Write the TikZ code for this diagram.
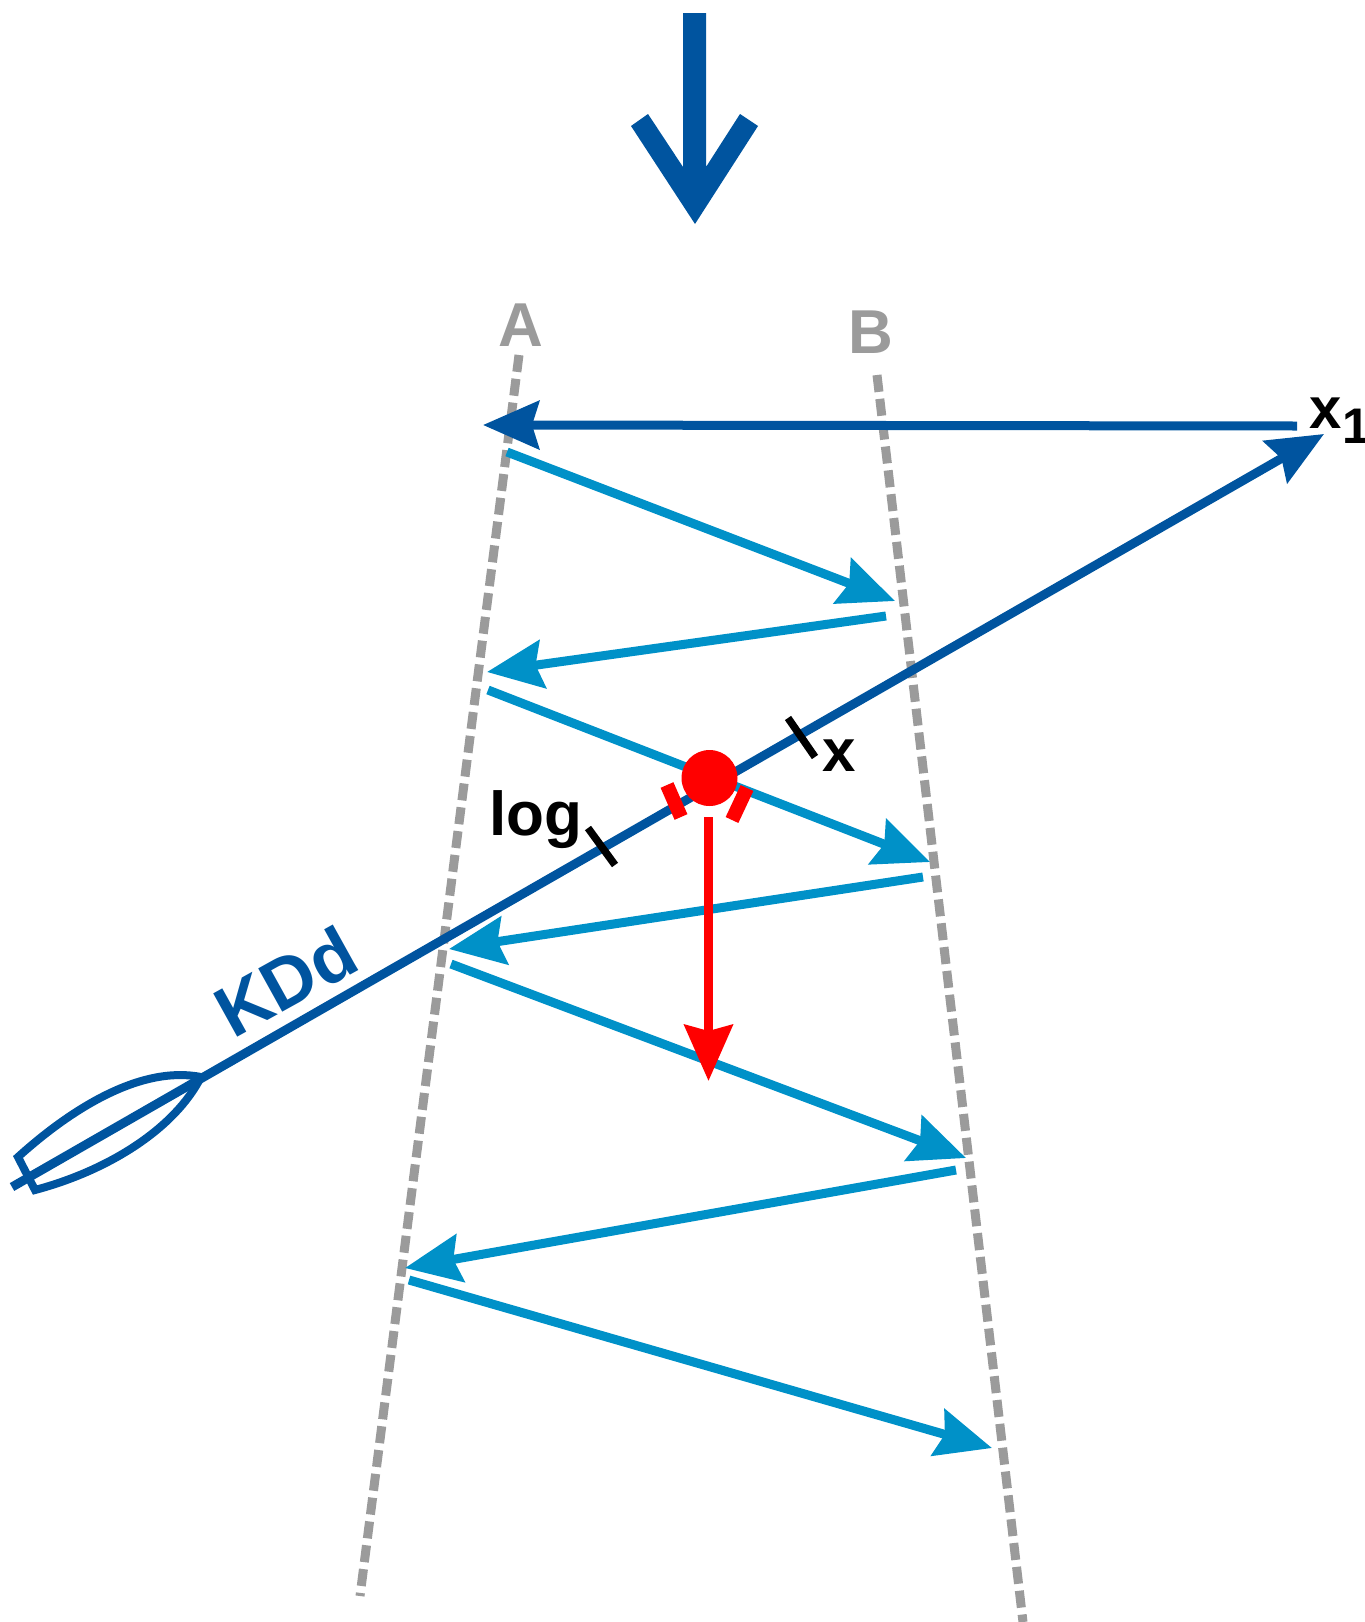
\documentclass[tikz,border=0pt]{standalone}
\usepackage{fontspec}
\setmainfont{Liberation Sans}
\usetikzlibrary{arrows.meta}
\definecolor{darkray}{RGB}{0,84,159}
\definecolor{lightray}{RGB}{0,145,200}
\definecolor{planegray}{RGB}{155,155,155}
\definecolor{hitred}{RGB}{255,0,0}
\tikzset{
  lightarrow/.style={line width=9pt, draw=lightray, -{Stealth[length=56pt,width=48pt,inset=7pt]}},
  darkarrow/.style={line width=9pt, draw=darkray, -{Stealth[length=56pt,width=48pt,inset=7pt]}},
  plane/.style={line width=9pt, draw=planegray, dash pattern=on 17pt off 7pt},
  lens/.style={line width=8pt, draw=darkray, line join=miter},
  tick/.style={line width=7.5pt, draw=black},
  redtick/.style={line width=14pt, draw=hitred},
  lab/.style={font=\bfseries\fontsize{#1}{#1}\selectfont, inner sep=0pt}
}
\begin{document}
\begin{tikzpicture}[x=1pt, y=-1pt]
  \useasboundingbox (0,0) rectangle (1365,1622);
  % ends of the rays
  \foreach \name/\px/\py in {a1/507/452, b1/895/601, b2/886/616, a2/487/672, a3/488/690, b3/930/862,
      b4/923/877, a4/449/949, a5/451/964, b5/966/1158, b6/956/1170, a6/405/1268, a7/409/1280, b7/992/1448}
    \coordinate (\name) at (\px,\py);
  \coordinate (planeAtop) at (519,355);
  \coordinate (planeAbot) at (360,1596);
  \coordinate (planeBtop) at (877,375);
  \coordinate (planeBbot) at (1023,1622);
  \coordinate (focusstart) at (1297,426);
  \coordinate (focusend) at (483,425);
  \coordinate (axisstart) at (12,1187);
  \coordinate (axisend) at (1324,434);
  \coordinate (lenstip) at (201,1077);
  \coordinate (lenstop) at (18,1157);
  \coordinate (lensbot) at (35,1190);
  \coordinate (dropstart) at (708.5,817);
  \coordinate (dropend) at (708.5,1081);

  \fill[darkray] (683,13) -- (706,13) -- (706,167) -- (740,114) -- (758,126) -- (695,224)
    -- (631,126) -- (648,114) -- (683,167) -- cycle;

  \draw[plane] (planeAtop) -- (planeAbot);
  \draw[plane] (planeBtop) -- (planeBbot);
  \node[lab=62, text=planegray] (labA) at (521,325) {A};
  \node[lab=62, text=planegray] (labB) at (871,332) {B};

  \foreach \from/\to in {a1/b1, b2/a2, a3/b3, b4/a4, a5/b5, b6/a6, a7/b7}
    \draw[lightarrow] (\from) -- (\to);

  \draw[darkarrow] (focusstart) -- (focusend);
  \draw[darkarrow] (axisstart) -- (axisend);
  \draw[lens] (lenstop) .. controls (70,1110) and (140,1065) .. (lenstip)
    .. controls (175,1128) and (110,1170) .. (lensbot) -- cycle;

  \node[circle, fill=hitred, minimum size=56pt, inner sep=0pt] (spot) at (709.5,778) {};
  \draw[redtick] (667,785) -- (681,817);
  \draw[redtick] (747,788) -- (732,820);
  \draw[tick] (588,828) -- (615,865);
  \draw[tick] (788,718) -- (815,757);
  \draw[line width=9pt, draw=hitred, -{Stealth[length=56pt,width=48pt,inset=6pt]}] (dropstart) -- (dropend);

  \node[lab=62, anchor=base west] (lablog) at (489,835) {log};
  \node[lab=60, anchor=base] (labx) at (839,771) {x};
  \node[lab=58, anchor=base west] (labxa) at (1309,428) {x};
  \node[lab=50, anchor=base west] (labone) at (1342,443) {1};
  \node[lab=72, text=darkray, rotate=29, anchor=base west] (labkdd) at (233,1040) {KDd};
\end{tikzpicture}
\end{document}
